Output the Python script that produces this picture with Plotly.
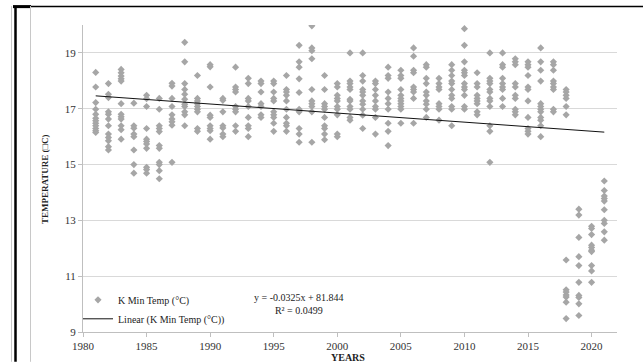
import plotly.graph_objects as go

# ---------------- data ----------------
years = list(range(1981, 2022))
min_temps = [
    [18.3, 17.78, 17.22, 16.98, 16.8, 16.66, 16.57, 16.48, 16.39, 16.29, 16.21, 16.15],  # 1981
    [17.9, 17.52, 17.4, 16.89, 16.8, 16.63, 16.39, 16.09, 15.97, 15.85, 15.64, 15.52],  # 1982
    [18.41, 18.29, 18.17, 18.07, 17.99, 17.18, 16.8, 16.71, 16.63, 16.39, 16.25, 15.91],  # 1983
    [17.2, 16.39, 16.3, 16.09, 16.0, 15.52, 15.0, 14.69],  # 1984
    [17.48, 17.36, 17.08, 16.29, 15.91, 15.83, 15.74, 15.58, 14.9, 14.82, 14.69],  # 1985
    [17.37, 16.98, 16.39, 16.29, 16.18, 15.68, 15.58, 15.08, 15.0, 14.78, 14.49],  # 1986
    [17.91, 17.81, 17.37, 17.08, 16.78, 16.63, 16.53, 16.41, 15.08],  # 1987
    [19.38, 18.68, 17.9, 17.69, 17.52, 17.34, 17.16, 17.08, 16.89, 16.78, 16.39],  # 1988
    [18.19, 17.37, 17.28, 17.18, 17.08, 16.98, 16.89, 16.29, 16.19],  # 1989
    [18.58, 18.5, 17.78, 16.77, 16.69, 16.39, 16.29, 16.21, 15.91],  # 1990
    [17.37, 17.3, 16.89, 16.39, 16.31, 16.09, 16.0],  # 1991
    [18.49, 17.78, 17.69, 17.6, 17.08, 16.98, 16.89, 16.39, 16.19],  # 1992
    [18.09, 17.9, 17.37, 17.28, 17.08, 16.69, 16.39, 16.29, 16.0],  # 1993
    [17.99, 17.9, 17.6, 17.18, 17.08, 16.78, 16.69],  # 1994
    [17.99, 17.9, 17.6, 17.37, 17.28, 16.89, 16.78, 16.69, 16.48, 16.19],  # 1995
    [18.19, 17.69, 17.6, 17.48, 17.28, 16.98, 16.69, 16.48, 16.39, 16.19],  # 1996
    [19.27, 18.68, 18.49, 18.07, 17.58, 16.98, 16.89, 16.29, 16.09, 15.8],  # 1997
    [19.97, 19.18, 19.08, 18.79, 17.69, 17.28, 17.18, 17.08, 16.89, 15.8],  # 1998
    [18.19, 17.69, 17.18, 17.08, 16.98, 16.69, 16.39, 16.29, 16.09, 15.89],  # 1999
    [17.9, 17.78, 17.48, 17.37, 17.28, 17.08, 16.98, 16.78, 16.09, 16.0],  # 2000
    [19.0, 17.99, 17.9, 17.78, 17.69, 17.34, 17.28, 17.08, 16.98, 16.69, 16.59],  # 2001
    [19.0, 18.19, 17.99, 17.69, 17.6, 17.48, 17.28, 17.16, 16.98, 16.77, 16.29],  # 2002
    [17.99, 17.9, 17.69, 17.48, 17.28, 17.08, 16.98, 16.69, 16.09],  # 2003
    [18.49, 18.19, 18.09, 17.6, 17.37, 17.18, 16.98, 16.48, 16.19, 15.68],  # 2004
    [18.38, 18.19, 18.09, 17.69, 17.48, 17.37, 17.28, 17.18, 17.08, 16.98, 16.48],  # 2005
    [19.18, 18.88, 18.38, 18.29, 17.78, 17.69, 17.6, 17.37, 16.48],  # 2006
    [18.58, 18.49, 18.09, 17.9, 17.6, 17.48, 17.28, 17.16, 16.98, 16.69],  # 2007
    [18.09, 17.9, 17.78, 17.69, 17.18, 17.08, 16.98, 16.59],  # 2008
    [18.58, 18.38, 18.19, 17.99, 17.9, 17.69, 17.48, 17.37, 17.08, 16.98, 16.39],  # 2009
    [19.87, 19.27, 18.68, 18.38, 18.29, 18.19, 17.9, 17.78, 17.69, 17.48, 17.08, 16.98],  # 2010
    [18.29, 17.9, 17.78, 17.48, 17.37, 17.28, 17.18, 16.89, 16.78],  # 2011
    [19.0, 18.09, 17.99, 17.9, 17.69, 17.6, 17.37, 17.28, 17.08, 16.39, 16.19, 15.08],  # 2012
    [19.0, 18.58, 18.49, 18.09, 17.9, 17.78, 17.69, 17.37, 17.08],  # 2013
    [18.79, 18.68, 18.58, 17.9, 17.78, 17.48, 17.37, 16.98, 16.89, 16.78],  # 2014
    [18.68, 18.58, 18.49, 18.19, 17.78, 17.69, 17.28, 16.69, 16.29, 16.19, 16.09],  # 2015
    [19.18, 18.68, 18.38, 17.99, 17.18, 17.08, 16.98, 16.89, 16.69, 16.59, 16.39, 16.0],  # 2016
    [18.68, 18.58, 18.38, 17.99, 17.9, 17.78, 17.69, 16.98, 16.89],  # 2017
    [17.69, 17.6, 17.48, 17.37, 17.08, 16.78, 11.58, 10.51, 10.43, 10.33, 10.25, 10.07, 9.48],  # 2018
    [13.4, 13.19, 12.39, 11.7, 11.38, 10.78, 10.31, 10.24, 10.01, 9.59],  # 2019
    [12.79, 12.71, 12.49, 12.11, 12.03, 11.93, 11.88, 11.38, 11.19, 10.78],  # 2020
    [14.41, 14.07, 13.87, 13.78, 13.69, 13.38, 13.0, 12.89, 12.59, 12.29],  # 2021
]
trend_slope = -0.0325
trend_intercept = 81.844
trend_label = "y = -0.0325x + 81.844"
r2_label = "R² = 0.0499"
y_ticks = [9, 11, 13, 15, 17, 19]
x_ticks = [1980, 1985, 1990, 1995, 2000, 2005, 2010, 2015, 2020]

# flatten
xs, ys = [], []
for yr, vals in zip(years, min_temps):
    for v in vals:
        xs.append(yr)
        ys.append(v)

trend_x = [min(years), max(years)]
trend_y = [trend_slope * x + trend_intercept for x in trend_x]

W, H = 643, 364
ML, MR, MT, MB = 83, 26, 25, 30
PW, PH = W - ML - MR, H - MT - MB


def px(X):
    return (X - ML) / PW


def py(Y):
    return (H - MB - Y) / PH


FONT = "Liberation Serif, Times New Roman, serif"
GRAY = "#A6A6A6"

fig = go.Figure()
fig.add_trace(go.Scatter(
    x=xs, y=ys, mode="markers", name="K Min Temp (°C)",
    marker=dict(symbol="diamond", size=5.5, color=GRAY, line=dict(width=0)),
))
fig.add_trace(go.Scatter(
    x=trend_x, y=trend_y, mode="lines", name="Linear (K Min Temp (°C))",
    line=dict(color="#111111", width=1),
))

shapes = []
line_gray = "#C8C8C8"
# document frame lines
shapes.append(dict(type="line", xref="paper", yref="paper", x0=px(13), x1=px(643), y0=py(6.5), y1=py(6.5),
                   line=dict(color="black", width=1.5)))
shapes.append(dict(type="line", xref="paper", yref="paper", x0=px(13), x1=px(31), y0=py(6.5), y1=py(6.5),
                   line=dict(color="black", width=3)))
shapes.append(dict(type="line", xref="paper", yref="paper", x0=px(15.5), x1=px(15.5), y0=py(6), y1=py(364),
                   line=dict(color="black", width=2.5)))
shapes.append(dict(type="line", xref="paper", yref="paper", x0=px(11.5), x1=px(11.5), y0=py(6), y1=py(364),
                   line=dict(color=line_gray, width=1)))
shapes.append(dict(type="line", xref="paper", yref="paper", x0=px(30.5), x1=px(30.5), y0=py(6), y1=py(364),
                   line=dict(color=line_gray, width=1)))

annotations = [
    dict(text=trend_label + "<br>" + r2_label, xref="paper", yref="paper", x=px(299), y=py(306),
         xanchor="center", yanchor="middle", showarrow=False, align="center",
         font=dict(family=FONT, size=10, color="#222222")),
    dict(text="<b>TEMPERATURE (\u25a1C)</b>", xref="paper", yref="paper", x=px(45), y=py(180),
         xanchor="center", yanchor="middle", showarrow=False, textangle=-90,
         font=dict(family=FONT, size=9, color="#222222")),
    dict(text="<b>YEARS</b>", xref="paper", yref="paper", x=px(348), y=py(360),
         xanchor="center", yanchor="middle", showarrow=False,
         font=dict(family=FONT, size=10, color="#222222")),
]

fig.update_layout(
    width=W, height=H,
    margin=dict(l=ML, r=MR, t=MT, b=MB, pad=0),
    paper_bgcolor="white", plot_bgcolor="white",
    font=dict(family=FONT, size=11, color="#333333"),
    showlegend=True,
    legend=dict(x=px(78), y=py(287), xanchor="left", yanchor="top",
                bgcolor="rgba(0,0,0,0)", font=dict(family=FONT, size=10, color="#222222"),
                tracegroupgap=0, itemsizing="trace"),
    shapes=shapes,
    annotations=annotations,
    xaxis=dict(range=[1980, 2022], tickvals=x_ticks, showgrid=False, zeroline=False,
               showline=True, linecolor="#BFBFBF", linewidth=1,
               ticks="outside", ticklen=4, tickcolor="#BFBFBF",
               tickfont=dict(family=FONT, size=11, color="#333333")),
    yaxis=dict(range=[9, 20], tickvals=y_ticks, showgrid=True, gridcolor="#D9D9D9", gridwidth=1,
               zeroline=False, showline=True, linecolor="#BFBFBF", linewidth=1,
               ticks="outside", ticklen=4, tickcolor="#BFBFBF",
               tickfont=dict(family=FONT, size=11, color="#333333")),
)

fig.write_html("out.html")
